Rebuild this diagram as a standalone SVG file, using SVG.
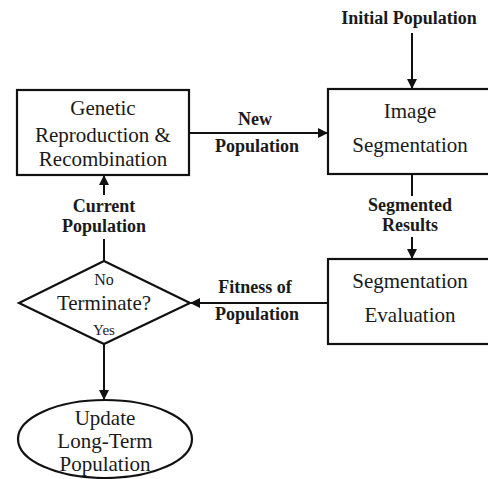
<svg xmlns="http://www.w3.org/2000/svg" width="488" height="479" viewBox="0 0 488 479">
<style>
.shape{fill:#fff;stroke:#111;stroke-width:2.2}
.t{font-family:"Liberation Serif",serif;font-size:21px;fill:#1a1a1a;text-anchor:middle}
.s{font-family:"Liberation Serif",serif;font-size:16px;fill:#1a1a1a;text-anchor:middle}
.b{font-family:"Liberation Serif",serif;font-size:18px;font-weight:bold;fill:#1a1a1a;text-anchor:middle}
.c{stroke:#111;stroke-width:2;fill:none}
</style>
<defs>
<marker id="ah" markerWidth="10" markerHeight="10" refX="9" refY="5" orient="auto" markerUnits="userSpaceOnUse">
<path d="M0,0 L10,5 L0,10 Z" fill="#111"/>
</marker>
</defs>
<rect width="488" height="479" fill="#fff"/>
<g id="connectors">
<line class="c" x1="412" y1="33" x2="412" y2="88" marker-end="url(#ah)"/>
<line class="c" x1="189" y1="133" x2="327" y2="133" marker-end="url(#ah)"/>
<line class="c" x1="412" y1="174" x2="412" y2="196"/>
<line class="c" x1="412" y1="237" x2="412" y2="258" marker-end="url(#ah)"/>
<line class="c" x1="328" y1="303" x2="191" y2="303" marker-end="url(#ah)"/>
<line class="c" x1="104" y1="261" x2="104" y2="239"/>
<line class="c" x1="104" y1="195" x2="104" y2="176" marker-end="url(#ah)"/>
<line class="c" x1="104" y1="344" x2="104" y2="399" marker-end="url(#ah)"/>
<text class="b" x="409" y="24">Initial Population</text>
<text class="b" x="255" y="125">New</text>
<text class="b" x="257" y="152">Population</text>
<text class="b" x="410" y="211">Segmented</text>
<text class="b" x="410" y="231">Results</text>
<text class="b" x="255" y="293">Fitness of</text>
<text class="b" x="257" y="320">Population</text>
<text class="b" x="104" y="212">Current</text>
<text class="b" x="104" y="232">Population</text>
</g>
<g id="genetic">
<rect class="shape" x="17" y="90" width="172" height="85"/>
<text class="t" x="103" y="115">Genetic</text>
<text class="t" x="103" y="142">Reproduction &amp;</text>
<text class="t" x="103" y="166">Recombination</text>
</g>
<g id="image-seg">
<rect class="shape" x="328" y="89" width="164" height="85"/>
<text class="t" x="410" y="118">Image</text>
<text class="t" x="410" y="152">Segmentation</text>
</g>
<g id="seg-eval">
<rect class="shape" x="328" y="259" width="164" height="85"/>
<text class="t" x="410" y="288">Segmentation</text>
<text class="t" x="410" y="322">Evaluation</text>
</g>
<g id="terminate">
<polygon class="shape" points="104,261 190,303 104,344 19,303"/>
<text class="s" x="104" y="285">No</text>
<text class="t" x="104" y="310">Terminate?</text>
<text class="s" x="104" y="335" style="font-size:15px">Yes</text>
</g>
<g id="update">
<ellipse class="shape" cx="105" cy="439" rx="87" ry="39"/>
<text class="t" x="105" y="425">Update</text>
<text class="t" x="105" y="448">Long-Term</text>
<text class="t" x="105" y="471">Population</text>
</g>
</svg>
